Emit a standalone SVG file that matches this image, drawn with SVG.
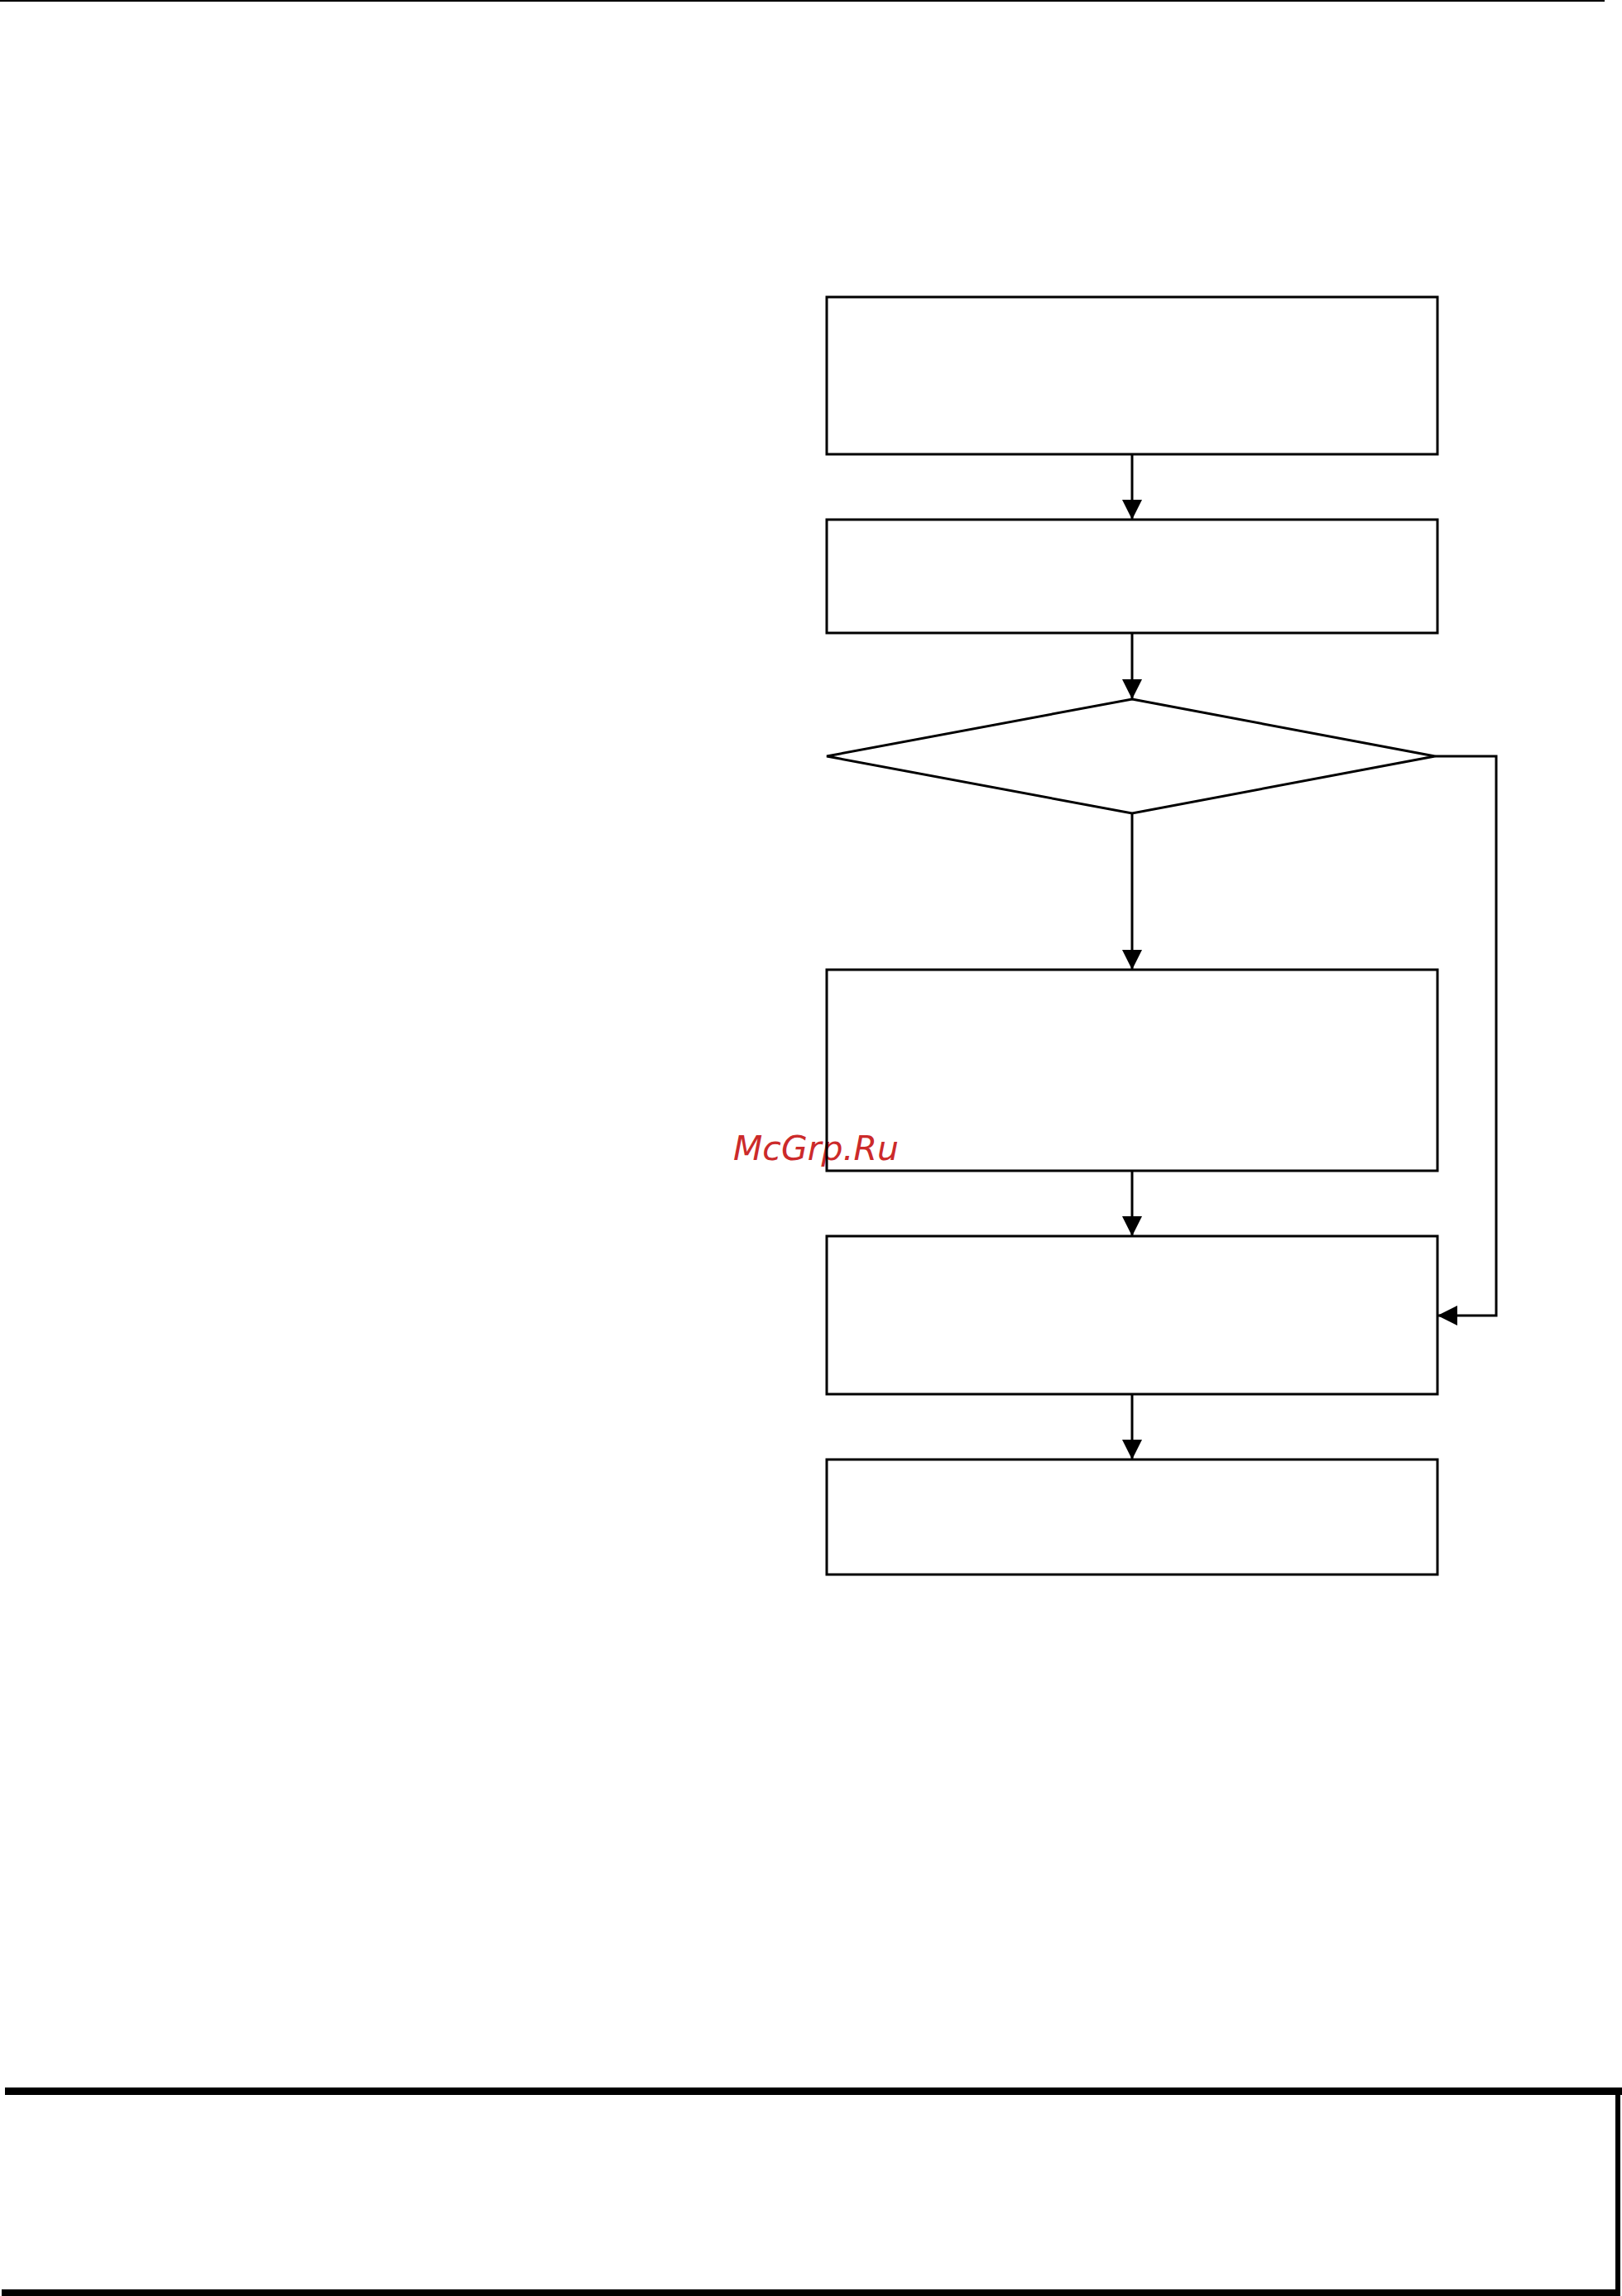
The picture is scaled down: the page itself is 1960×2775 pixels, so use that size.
<svg xmlns="http://www.w3.org/2000/svg" width="1960" height="2775" viewBox="0 0 1960 2775">
<style>
.node{fill:none;stroke:#000;stroke-width:3}
.conn{fill:none;stroke:#000;stroke-width:3}
.frame{fill:none;stroke:#000}
.wm{font-family:"DejaVu Sans",sans-serif;font-style:italic;font-size:41px;fill:#cc2a2a}
</style>
<defs>
<marker id="arr" markerUnits="userSpaceOnUse" markerWidth="24" markerHeight="24" viewBox="0 0 24 24" refX="24" refY="12" orient="auto">
<path d="M0,0 L24,12 L0,24 Z" fill="#000"/>
</marker>
</defs>
<rect width="1960" height="2775" fill="#fff"/>
<line class="frame" x1="0" y1="1" x2="1939" y2="1" stroke-width="2"/>
<text class="wm" x="886" y="1402">McGrp.Ru</text>
<g id="n1"><rect class="node" x="999" y="359" width="738" height="190"/></g>
<g id="n2"><rect class="node" x="999" y="628" width="738" height="137"/></g>
<g id="n3"><polygon class="node" points="1368,845 1734,914 1368,983 999,914"/></g>
<g id="n4"><rect class="node" x="999" y="1172" width="738" height="243"/></g>
<g id="n5"><rect class="node" x="999" y="1494" width="738" height="191"/></g>
<g id="n6"><rect class="node" x="999" y="1764" width="738" height="139"/></g>
<g id="connectors">
<line class="conn" x1="1368" y1="549" x2="1368" y2="628" marker-end="url(#arr)"/>
<line class="conn" x1="1368" y1="765" x2="1368" y2="845" marker-end="url(#arr)"/>
<line class="conn" x1="1368" y1="983" x2="1368" y2="1172" marker-end="url(#arr)"/>
<line class="conn" x1="1368" y1="1415" x2="1368" y2="1494" marker-end="url(#arr)"/>
<line class="conn" x1="1368" y1="1685" x2="1368" y2="1764" marker-end="url(#arr)"/>
<polyline class="conn" points="1734,914 1808,914 1808,1590 1737,1590" marker-end="url(#arr)"/>
</g>
<g id="frame">
<line class="frame" x1="6" y1="2527.5" x2="1960" y2="2527.5" stroke-width="9"/>
<line class="frame" x1="1955" y1="2523" x2="1955" y2="2775" stroke-width="6"/>
<line class="frame" x1="2" y1="2771" x2="1958" y2="2771" stroke-width="8"/>
</g>
</svg>
